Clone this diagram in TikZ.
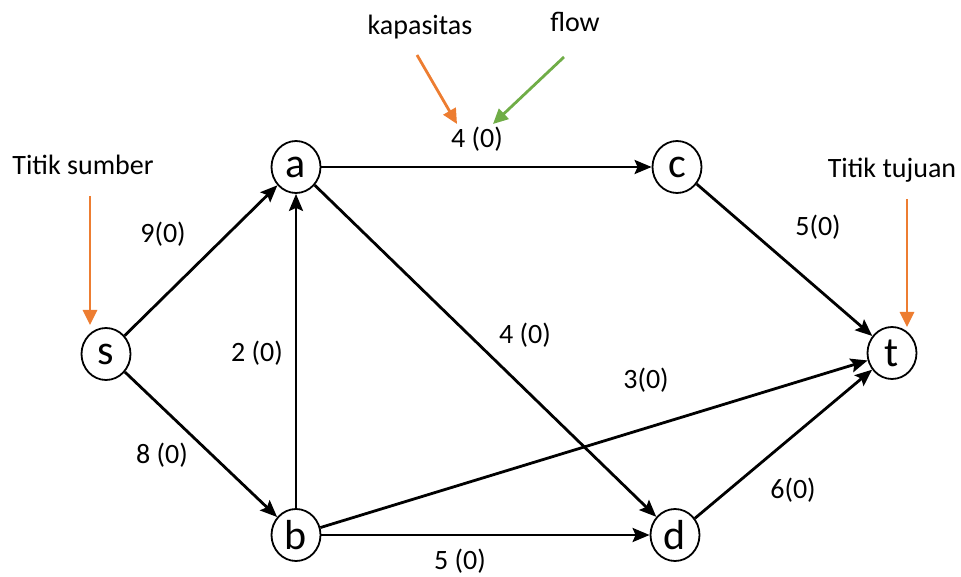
\documentclass[tikz,border=0pt]{standalone}
\usepackage{fontspec}
\setmainfont{Carlito}
\usetikzlibrary{arrows.meta,shapes.geometric}
\definecolor{anorange}{HTML}{ED7D31}
\definecolor{angreen}{HTML}{70AD47}
\begin{document}
\begin{tikzpicture}[x=1pt,y=-1pt,
  vtx/.style={draw,ellipse,line width=1.8pt,minimum width=49pt,minimum height=52pt,inner sep=0pt,font=\fontsize{42}{46}\selectfont},
  lbl/.style={inner sep=0pt,font=\fontsize{28}{32}\selectfont},
  edge/.style={line width=2.8pt,-{Stealth[length=17pt,width=14pt,inset=3pt]}},
  ann/.style={line width=2.8pt,-{Triangle[length=15pt,width=14pt]}}]
\useasboundingbox (0,0) rectangle (961,577);
\node[vtx] (s) at (106,354) {s};
\node[vtx] (a) at (296,167) {a};
\node[vtx] (c) at (677,167) {c};
\node[vtx] (t) at (892,353) {t};
\node[vtx] (b) at (296,535) {b};
\node[vtx] (d) at (675,535) {d};
\draw[edge] (s) -- (a);
\draw[edge] (s) -- (b);
\draw[edge] (b) -- (a);
\draw[edge] (a) -- (c);
\draw[edge] (a) -- (d);
\draw[edge] (c) -- (t);
\draw[edge] (b) -- (t);
\draw[edge] (b) -- (d);
\draw[edge] (d) -- (t);
\node[lbl] (lsa) at (163,234) {9(0)};
\node[lbl] (lsb) at (162,455) {8 (0)};
\node[lbl] (lba) at (257,353) {2 (0)};
\node[lbl] (lac) at (477,139) {4 (0)};
\node[lbl] (lad) at (525,335) {4 (0)};
\node[lbl] (lbt) at (646,380) {3(0)};
\node[lbl] (lct) at (818,227) {5(0)};
\node[lbl] (ldt) at (793,490) {6(0)};
\node[lbl] (lbd) at (460,561) {5 (0)};
\node[lbl] (kap) at (420,27) {kapasitas};
\node[lbl] (flw) at (575,22) {flow};
\node[lbl] (src) at (83,165) {Titik sumber};
\node[lbl] (snk) at (892,170) {Titik tujuan};
\coordinate (kapS) at (417,55);
\coordinate (kapE) at (457,124);
\coordinate (flwS) at (564,57);
\coordinate (flwE) at (493,124);
\coordinate (srcS) at (90,196);
\coordinate (srcE) at (90,325);
\coordinate (snkS) at (907,199);
\coordinate (snkE) at (907,327);
\draw[ann,anorange] (kapS) -- (kapE);
\draw[ann,angreen] (flwS) -- (flwE);
\draw[ann,anorange] (srcS) -- (srcE);
\draw[ann,anorange] (snkS) -- (snkE);
\end{tikzpicture}
\end{document}
